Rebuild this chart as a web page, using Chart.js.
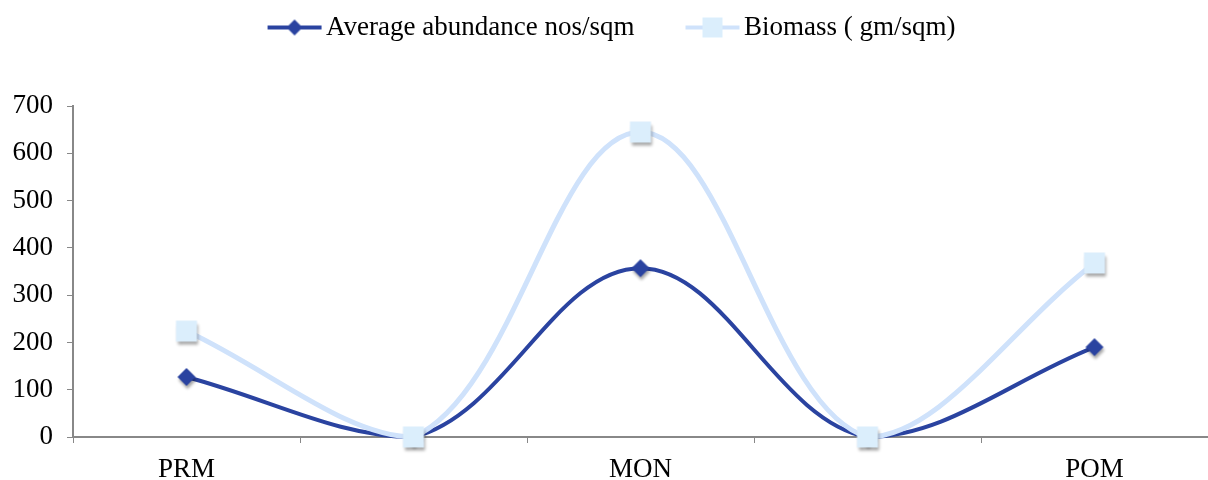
<!DOCTYPE html>
<html>
<head>
<meta charset="utf-8">
<script src="https://cdn.jsdelivr.net/npm/chart.js@4"></script>
<style>
  html, body { margin: 0; padding: 0; background: #fff; }
  #wrap { width: 1208px; height: 480px; }
</style>
</head>
<body>
<div id="wrap"><canvas id="chart" width="1208" height="480"></canvas></div>
<script>
// dados
const seasons = ['PRM', '', 'MON', '', 'POM'];
const abundance = [127, 0, 357, 0, 190];
const biomass = [224, 0, 645, 0, 368];
const yTicks = [0, 100, 200, 300, 400, 500, 600, 700];

const darkBlue = '#2a43a0';
const lightLine = '#cfe2fb';
const lightMarker = '#dbeefc';
const serif = 'Liberation Serif';

// símbolo da legenda: espaço vazio à esquerda + linha com marcador no meio
function legendIcon(color, markerColor, style) {
    const c = document.createElement('canvas');
    c.width = 106; c.height = 22;
    const g = c.getContext('2d');
    g.strokeStyle = color;
    g.lineWidth = 4;
    g.beginPath(); g.moveTo(51, 11); g.lineTo(105, 11); g.stroke();
    g.fillStyle = markerColor;
    if (style === 'rectRot') {
        g.beginPath(); g.moveTo(78, 3); g.lineTo(86, 11); g.lineTo(78, 19); g.lineTo(70, 11); g.closePath(); g.fill();
    } else {
        g.fillRect(68, 1, 20, 20);
    }
    return c;
}

// marcadores do gráfico com uma sombra leve
function markerImage(color, style) {
    const s = 34, m = s / 2;
    const c = document.createElement('canvas');
    c.width = s; c.height = s;
    const g = c.getContext('2d');
    g.shadowColor = 'rgba(0,0,0,0.35)';
    g.shadowBlur = 3;
    g.shadowOffsetX = 1;
    g.shadowOffsetY = 3;
    g.fillStyle = color;
    if (style === 'rectRot') {
        g.beginPath(); g.moveTo(m, m - 9); g.lineTo(m + 9, m); g.lineTo(m, m + 9); g.lineTo(m - 9, m); g.closePath(); g.fill();
    } else {
        g.fillRect(m - 10.5, m - 10.5, 21, 21);
    }
    return c;
}

const ctx = document.getElementById('chart').getContext('2d');
new Chart(ctx, {
    type: 'line',
    data: {
        labels: seasons,
        datasets: [{
            label: 'Average abundance nos/sqm',
            data: abundance,
            borderColor: darkBlue,
            backgroundColor: darkBlue,
            borderWidth: 4,
            tension: 0.37,
            pointStyle: markerImage(darkBlue, 'rectRot'),
            pointRadius: 9,
            clip: false,
            order: 2
        }, {
            label: 'Biomass ( gm/sqm)',
            data: biomass,
            borderColor: lightLine,
            backgroundColor: lightMarker,
            borderWidth: 5,
            tension: 0.37,
            pointStyle: markerImage(lightMarker, 'rect'),
            pointRadius: 12,
            clip: false,
            order: 1
        }]
    },
    options: {
        responsive: false,
        animation: false,
        layout: { autoPadding: false, padding: { left: 0, right: 0, top: 4, bottom: 0 } },
        plugins: {
            tooltip: { enabled: false },
            legend: {
                position: 'top',
                labels: {
                    usePointStyle: true,
                    pointStyleWidth: 86,
                    boxHeight: 22,
                    font: { family: serif, size: 27 },
                    color: '#000',
                    padding: 10,
                    generateLabels: function(chart) {
                        return [
                            { text: 'Average abundance nos/sqm', pointStyle: legendIcon(darkBlue, darkBlue, 'rectRot'), datasetIndex: 0, fontColor: '#000', lineWidth: 0, strokeStyle: 'transparent', fillStyle: 'transparent' },
                            { text: 'Biomass ( gm/sqm)', pointStyle: legendIcon(lightLine, lightMarker, 'rect'), datasetIndex: 1, fontColor: '#000', lineWidth: 0, strokeStyle: 'transparent', fillStyle: 'transparent' }
                        ];
                    }
                }
            }
        },
        scales: {
            x: {
                offset: true,
                afterFit: function(axis) {
                    axis.height = 43;
                    axis.paddingLeft = 0;
                    axis.paddingRight = 0;
                },
                grid: { offset: true, drawOnChartArea: false, drawTicks: true, tickLength: 6, color: '#888', lineWidth: 1 },
                border: { color: '#888', width: 2 },
                ticks: { font: { family: serif, size: 27 }, color: '#000', padding: 11, maxRotation: 0, autoSkip: false }
            },
            y: {
                min: 0,
                max: 700,
                afterBuildTicks: function(axis) { axis.ticks = yTicks.map(v => ({ value: v })); },
                afterFit: function(axis) { axis.width = 73; },
                grid: { drawOnChartArea: false, drawTicks: true, tickLength: 6, color: '#888' },
                border: { color: '#888', width: 2 },
                ticks: { font: { family: serif, size: 27 }, color: '#000', padding: 14 }
            }
        }
    },
    plugins: [{
        id: 'legendTweak',
        beforeInit(chart) {
            const legend = chart.legend;
            const fit = legend.fit;
            legend.fit = function() {
                fit.apply(this, arguments);
                this.height += 55;
            };
            // desloca a legenda um pouco para a esquerda, como no original
            const draw = legend.draw;
            legend.draw = function() {
                const c = this.ctx;
                c.save();
                c.translate(-13, 0);
                draw.apply(this, arguments);
                c.restore();
            };
        }
    }]
});
</script>
</body>
</html>
